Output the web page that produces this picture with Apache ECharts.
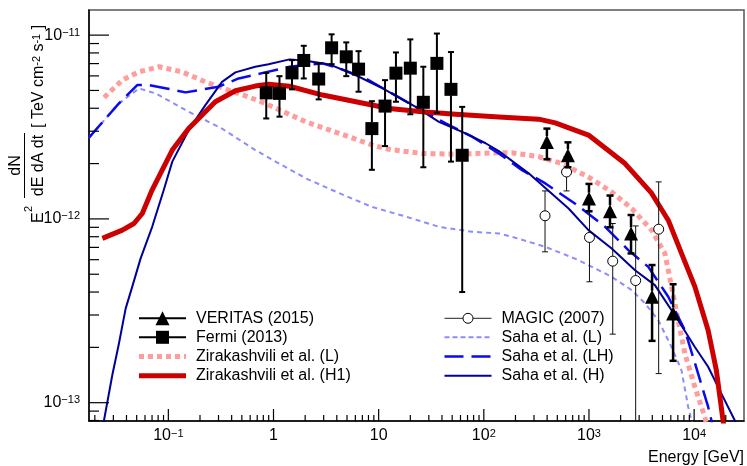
<!DOCTYPE html>
<html>
<head>
<meta charset="utf-8">
<script src="https://cdn.jsdelivr.net/npm/echarts@6/dist/echarts.min.js"></script>
<style>
  html, body { margin: 0; padding: 0; background: #fff; }
  #chart { width: 747px; height: 466px; }
</style>
</head>
<body>
<div id="chart"></div>
<script>
// Axis ranges (GeV on x, TeV cm^-2 s^-1 on y)
const xRange = [0.0176, 29800];
const yRange = [7.95e-14, 1.37e-11];

// Major tick values
const xMajorTicks = [0.1, 1, 10, 100, 1000, 10000];
const yMajorTicks = [1e-13, 1e-12, 1e-11];

// Fermi (2013)
const fermiE  = [0.853, 1.14, 1.50, 1.94, 2.69, 3.57, 4.92, 6.44, 8.62, 11.5, 14.6, 20.0, 26.6, 35.8, 48.7, 62.3];
const fermiF  = [4.85e-12, 4.82e-12, 6.23e-12, 7.28e-12, 5.77e-12, 8.53e-12, 7.62e-12, 6.53e-12, 3.10e-12, 4.11e-12, 6.21e-12, 6.61e-12, 4.31e-12, 7.02e-12, 5.07e-12, 2.22e-12];
const fermiHi = [6.23e-12, 5.98e-12, 7.31e-12, 8.75e-12, 7.02e-12, 1.01e-11, 9.13e-12, 8.18e-12, 4.37e-12, 5.69e-12, 8.05e-12, 9.48e-12, 6.73e-12, 1.02e-11, 8.09e-12, 4.07e-12];
const fermiLo = [3.52e-12, 3.60e-12, 5.07e-12, 5.81e-12, 4.47e-12, 6.95e-12, 5.98e-12, 4.92e-12, 1.85e-12, 2.49e-12, 4.34e-12, 3.71e-12, 1.91e-12, 3.78e-12, 2.05e-12, 4.0e-13];

// VERITAS (2015)
const veritasE  = [398, 631, 1000, 1585, 2512, 3981, 6310];
const veritasF  = [2.62e-12, 2.22e-12, 1.29e-12, 1.10e-12, 8.34e-13, 3.77e-13, 3.06e-13];
const veritasHi = [3.10e-12, 2.61e-12, 1.55e-12, 1.34e-12, 1.05e-12, 5.61e-13, 4.41e-13];
const veritasLo = [2.11e-12, 1.91e-12, 1.10e-12, 9.0e-13, 6.49e-13, 2.17e-13, 1.69e-13];

// MAGIC (2007)
const magicE  = [382, 612, 1011, 1682, 2780, 4600];
const magicF  = [1.04e-12, 1.80e-12, 7.93e-13, 5.89e-13, 4.62e-13, 8.79e-13];
const magicHi = [1.42e-12, 2.18e-12, 1.10e-12, 9.44e-13, 9.16e-13, 1.59e-12];
const magicLo = [6.62e-13, 1.42e-12, 4.55e-13, 2.36e-13, 1.0e-14, 1.44e-13];

// Model curves: [energy, flux]
const zirakashviliL = [[0.0245,4.58e-12],[0.0365,5.69e-12],[0.0525,6.31e-12],[0.0813,6.73e-12],[0.135,6.31e-12],[0.225,5.57e-12],[0.374,5.02e-12],[0.580,4.61e-12],[0.834,4.25e-12],[2.04,3.37e-12],[4.22,2.92e-12],[8.73,2.52e-12],[12.6,2.39e-12],[26.0,2.27e-12],[53.9,2.25e-12],[139,2.29e-12],[185,2.29e-12],[332,2.18e-12],[552,2.00e-12],[989,1.69e-12],[1645,1.40e-12],[2547,1.14e-12],[3938,8.69e-13],[5275,6.49e-13],[6095,4.28e-13],[7047,2.81e-13],[8163,1.85e-13],[10160,1.22e-13],[12630,8.37e-14],[13580,7.1e-14]];
const zirakashviliH1 = [[0.0236,7.84e-13],[0.0365,8.69e-13],[0.0471,9.44e-13],[0.0565,1.07e-12],[0.0702,1.44e-12],[0.109,2.37e-12],[0.156,3.10e-12],[0.280,4.34e-12],[0.434,4.98e-12],[0.671,5.28e-12],[0.897,5.40e-12],[1.42,5.27e-12],[2.93,4.72e-12],[6.08,4.34e-12],[12.6,3.99e-12],[26.0,3.83e-12],[53.9,3.71e-12],[139,3.59e-12],[332,3.49e-12],[478,3.33e-12],[989,2.86e-12],[2203,2.00e-12],[3938,1.38e-12],[5675,9.84e-13],[7586,6.49e-13],[10160,4.28e-13],[13580,2.48e-13],[16270,1.50e-13],[18820,8.03e-14],[19700,6.7e-14]];
const sahaL = [[0.0176,2.77e-12],[0.0339,4.25e-12],[0.0525,5.13e-12],[0.0757,4.82e-12],[0.156,3.83e-12],[0.324,3.10e-12],[0.671,2.37e-12],[0.985,2.09e-12],[2.04,1.66e-12],[4.22,1.38e-12],[8.73,1.16e-12],[18.1,1.03e-12],[37.4,9.06e-13],[77.5,8.51e-13],[139,8.34e-13],[185,8.00e-13],[385,7.05e-13],[795,5.97e-13],[1645,4.84e-13],[2547,4.10e-13],[3412,3.47e-13],[4560,2.81e-13],[6095,2.01e-13],[7586,1.50e-13],[8770,9.51e-14],[9420,8.03e-14],[9790,7.1e-14]];
const sahaLH = [[0.0176,2.77e-12],[0.0339,4.25e-12],[0.0506,5.35e-12],[0.0653,5.35e-12],[0.0962,5.13e-12],[0.146,4.88e-12],[0.195,5.02e-12],[0.301,5.24e-12],[0.466,5.81e-12],[0.834,6.27e-12],[1.42,6.73e-12],[2.93,7.02e-12],[4.22,6.59e-12],[7.56,5.81e-12],[12.6,4.91e-12],[22.5,4.07e-12],[43.4,3.31e-12],[77.5,2.80e-12],[139,2.27e-12],[231,1.84e-12],[385,1.56e-12],[740,1.21e-12],[1425,9.06e-13],[2367,6.76e-13],[3664,5.48e-13],[5675,3.77e-13],[8163,2.48e-13],[10910,1.44e-13],[13580,9.51e-14],[14590,8.03e-14],[15140,7.1e-14]];
const sahaH = [[0.0237,7.28e-14],[0.0293,1.41e-13],[0.0339,2.10e-13],[0.0393,3.26e-13],[0.0454,4.28e-13],[0.0545,6.10e-13],[0.0702,9.06e-13],[0.0906,1.44e-12],[0.109,2.05e-12],[0.156,3.04e-12],[0.225,4.16e-12],[0.324,5.57e-12],[0.434,6.27e-12],[0.671,6.73e-12],[0.897,6.95e-12],[1.42,7.38e-12],[2.04,7.25e-12],[3.40,6.93e-12],[6.08,6.05e-12],[10.9,5.13e-12],[22.5,4.07e-12],[37.4,3.37e-12],[67.1,2.92e-12],[104,2.58e-12],[139,2.34e-12],[267,1.77e-12],[640,1.14e-12],[989,8.69e-13],[1645,6.90e-13],[2742,5.26e-13],[4236,4.36e-13],[7047,2.81e-13],[10160,2.01e-13],[13580,1.57e-13],[18160,1.12e-13],[24320,8.03e-14],[26100,7.28e-14]];

const FONT = '"Liberation Sans", Arial, Helvetica, sans-serif';
const COLORS = {
  zirL: '#ff9c9c', zirH1: '#cc0000', sahaL: '#8c8cff', sahaLH: '#0a0af0', sahaH: '#000099'
};

// Minor ticks 2..9 x 10^k within the axis range
function minorTicks(range) {
  const out = [];
  const k0 = Math.floor(Math.log10(range[0])), k1 = Math.ceil(Math.log10(range[1]));
  for (let k = k0; k <= k1; k++) {
    for (let m = 2; m <= 9; m++) {
      const v = m * Math.pow(10, k);
      if (v > range[0] && v < range[1]) out.push(v);
    }
  }
  return out;
}
const xMinorTicks = minorTicks(xRange);
const yMinorTicks = minorTicks(yRange);

function isPow10(v) { const l = Math.log10(v); return Math.abs(l - Math.round(l)) < 1e-6; }
function pow10Label(v) {
  if (!isPow10(v)) return '';
  const e = Math.round(Math.log10(v));
  if (e === 0) return '{b|1}';
  if (e === 1) return '{b|10}';
  return '{b|10}{s|' + (e < 0 ? '\u2212' : '') + Math.abs(e) + '}';
}
const labelRich = {
  b: { fontSize: 16, fontFamily: FONT, color: '#000' },
  s: { fontSize: 11, fontFamily: FONT, color: '#000', verticalAlign: 'top' }
};

// Tick marks drawn inward from the bottom and left axes
function xTickSeries() {
  const data = xMajorTicks.map(v => [v, yRange[0], 1]).concat(xMinorTicks.map(v => [v, yRange[0], 0]));
  return {
    type: 'custom', coordinateSystem: 'cartesian2d', silent: true, z: 20, clip: false,
    encode: { x: 0, y: 1 }, data,
    renderItem(params, api) {
      const cs = params.coordSys;
      const px = api.coord([api.value(0), yRange[0]])[0];
      const yb = cs.y + cs.height;
      const len = api.value(2) ? 12 : 6;
      return { type: 'line', shape: { x1: px, y1: yb, x2: px, y2: yb - len }, style: { stroke: '#000', lineWidth: 1.2 } };
    }
  };
}
function yTickSeries() {
  const data = yMajorTicks.map(v => [xRange[0], v, 1]).concat(yMinorTicks.map(v => [xRange[0], v, 0]));
  return {
    type: 'custom', coordinateSystem: 'cartesian2d', silent: true, z: 20, clip: false,
    encode: { x: 0, y: 1 }, data,
    renderItem(params, api) {
      const cs = params.coordSys;
      const py = api.coord([xRange[0], api.value(1)])[1];
      const len = api.value(2) ? 20 : 10;
      return { type: 'line', shape: { x1: cs.x, y1: py, x2: cs.x + len, y2: py }, style: { stroke: '#000', lineWidth: 1.2 } };
    }
  };
}

// Vertical error bars with end caps, interrupted by the marker
function errorBars(name, E, F, lo, hi, o) {
  return {
    type: 'custom', name, coordinateSystem: 'cartesian2d', silent: true, z: o.z, clip: false,
    encode: { x: 0, y: 1 },
    data: E.map((e, i) => [e, F[i], lo[i], hi[i]]),
    renderItem(params, api) {
      const cs = params.coordSys;
      const e = api.value(0);
      const c = api.coord([e, api.value(1)]);
      const t = api.coord([e, api.value(3)]);
      const b = api.coord([e, api.value(2)]);
      const bottom = cs.y + cs.height;
      const by = Math.min(b[1], bottom);
      const style = { stroke: o.color, lineWidth: o.width };
      const x = c[0];
      const ch = [];
      if (c[1] - o.gap > t[1]) ch.push({ type: 'line', shape: { x1: x, y1: c[1] - o.gap, x2: x, y2: t[1] }, style });
      if (c[1] + o.gap < by) ch.push({ type: 'line', shape: { x1: x, y1: c[1] + o.gap, x2: x, y2: by }, style });
      ch.push({ type: 'line', shape: { x1: x - o.cap, y1: t[1], x2: x + o.cap, y2: t[1] }, style });
      if (b[1] <= bottom) ch.push({ type: 'line', shape: { x1: x - o.cap, y1: b[1], x2: x + o.cap, y2: b[1] }, style });
      return { type: 'group', children: ch };
    }
  };
}

function curve(name, data, color, width, dash, z) {
  return {
    type: 'line', name, data, z, showSymbol: false, symbol: 'none', smooth: false, clip: true, silent: true,
    lineStyle: { color, width, type: dash || 'solid', cap: 'butt', join: 'round', opacity: 1 }
  };
}

function markers(name, E, F, symbol, size, itemStyle) {
  return {
    type: 'scatter', name, z: 9, silent: true, symbol, symbolSize: size,
    itemStyle: Object.assign({ opacity: 1 }, itemStyle),
    data: E.map((e, i) => [e, F[i]])
  };
}

// Legend built from shapes and text
function legendEntry(x0, y, label, kind) {
  const x1 = x0 + 47, cx = (x0 + x1) / 2;
  const els = [];
  const seg = (a, b, style) => els.push({ type: 'line', shape: { x1: a, y1: y, x2: b, y2: y }, style });
  if (kind === 'veritas') {
    seg(x0, x1, { stroke: '#000', lineWidth: 2 });
    els.push({ type: 'polygon', shape: { points: [[cx, y - 7], [cx + 7, y + 7], [cx - 7, y + 7]] }, style: { fill: '#000' } });
  } else if (kind === 'fermi') {
    seg(x0, x1, { stroke: '#000', lineWidth: 2 });
    els.push({ type: 'rect', shape: { x: cx - 6.5, y: y - 6.5, width: 13, height: 13 }, style: { fill: '#000' } });
  } else if (kind === 'magic') {
    seg(x0, cx - 5, { stroke: '#222', lineWidth: 1 });
    seg(cx + 5, x1, { stroke: '#222', lineWidth: 1 });
    els.push({ type: 'circle', shape: { cx, cy: y, r: 5 }, style: { fill: 'none', stroke: '#000', lineWidth: 1 } });
  } else {
    seg(x0, x1, kind);
  }
  els.push({ type: 'text', style: { text: label, x: x0 + 57, y, fill: '#000', font: '16px ' + FONT, textAlign: 'left', textVerticalAlign: 'middle', verticalAlign: 'middle' } });
  return els;
}
const legendRows = [318.3, 337.3, 356.6, 375.8];
const legendGraphics = [].concat(
  legendEntry(139, legendRows[0], 'VERITAS (2015)', 'veritas'),
  legendEntry(139, legendRows[1], 'Fermi (2013)', 'fermi'),
  legendEntry(139, legendRows[2], 'Zirakashvili et al. (L)', { stroke: COLORS.zirL, lineWidth: 5, lineDash: [5, 4] }),
  legendEntry(139, legendRows[3], 'Zirakashvili et al. (H1)', { stroke: COLORS.zirH1, lineWidth: 5 }),
  legendEntry(444.5, legendRows[0], 'MAGIC (2007)', 'magic'),
  legendEntry(444.5, legendRows[1], 'Saha et al. (L)', { stroke: COLORS.sahaL, lineWidth: 2, lineDash: [5, 3] }),
  legendEntry(444.5, legendRows[2], 'Saha et al. (LH)', { stroke: COLORS.sahaLH, lineWidth: 2.5, lineDash: [19, 8] }),
  legendEntry(444.5, legendRows[3], 'Saha et al. (H)', { stroke: COLORS.sahaH, lineWidth: 2 })
);

// Rotated y-axis title: E^2 dN/(dE dA dt) [ TeV cm^-2 s^-1 ]
const titleFont = '16px ' + FONT;
const yTitle = {
  type: 'group', x: 39, y: 223, rotation: Math.PI / 2, silent: true,
  children: [
    { type: 'text', style: { text: 'E', x: 0, y: 0, font: titleFont, fill: '#000', textAlign: 'left', textVerticalAlign: 'middle', verticalAlign: 'middle' } },
    { type: 'text', style: { text: '2', x: 11, y: -10, font: '11px ' + FONT, fill: '#000', textAlign: 'left', textVerticalAlign: 'middle', verticalAlign: 'middle' } },
    { type: 'text', style: { text: 'dN', x: 57.5, y: -23, font: titleFont, fill: '#000', textAlign: 'center', textVerticalAlign: 'middle', verticalAlign: 'middle' } },
    { type: 'line', shape: { x1: 25, y1: -14.5, x2: 90, y2: -14.5 }, style: { stroke: '#000', lineWidth: 1 } },
    { type: 'text', style: { text: 'dE dA dt', x: 57.5, y: 0, font: titleFont, fill: '#000', textAlign: 'center', textVerticalAlign: 'middle', verticalAlign: 'middle' } },
    { type: 'text', style: {
        text: '[ TeV cm{s|-2} s{s|-1} ]', x: 95, y: 0, font: titleFont, fill: '#000',
        textAlign: 'left', textVerticalAlign: 'middle', verticalAlign: 'middle',
        rich: { s: { fontSize: 11, fontFamily: FONT, fill: '#000', verticalAlign: 'top' } }
      } }
  ]
};

const chart = echarts.init(document.getElementById('chart'), null, { renderer: 'canvas' });
chart.setOption({
  animation: false,
  backgroundColor: '#fff',
  textStyle: { fontFamily: FONT },
  grid: { left: 89, top: 10, right: 1, bottom: 45, show: true, borderColor: '#555', borderWidth: 1.5, backgroundColor: '#fff', containLabel: false },
  xAxis: {
    type: 'log', logBase: 10, min: xRange[0], max: xRange[1],
    axisLine: { show: true, onZero: false, lineStyle: { color: '#000', width: 1.5 } },
    axisTick: { show: false }, minorTick: { show: false }, splitLine: { show: false }, minorSplitLine: { show: false },
    axisLabel: { show: true, interval: 0, margin: 7, color: '#000', fontSize: 16, fontFamily: FONT, hideOverlap: false,
      formatter: pow10Label, rich: labelRich },
    name: 'Energy [GeV]', nameLocation: 'end', nameGap: 0,
    nameTextStyle: { color: '#000', fontSize: 16, fontFamily: FONT, align: 'right', verticalAlign: 'top', padding: [29, 0, 0, 0] }
  },
  yAxis: {
    type: 'log', logBase: 10, min: yRange[0], max: yRange[1],
    axisLine: { show: true, onZero: false, lineStyle: { color: '#000', width: 1.5 } },
    axisTick: { show: false }, minorTick: { show: false }, splitLine: { show: false }, minorSplitLine: { show: false },
    axisLabel: { show: true, interval: 0, margin: 9, color: '#000', fontSize: 16, fontFamily: FONT, hideOverlap: false,
      formatter: pow10Label, rich: labelRich }
  },
  series: [
    curve('Zirakashvili et al. (L)', zirakashviliL, COLORS.zirL, 5, [5, 4], 2),
    curve('Saha et al. (L)', sahaL, COLORS.sahaL, 2, [5, 4], 3),
    curve('Saha et al. (LH)', sahaLH, COLORS.sahaLH, 2.5, [20, 8], 4),
    curve('Saha et al. (H)', sahaH, COLORS.sahaH, 2, 'solid', 5),
    curve('Zirakashvili et al. (H1)', zirakashviliH1, COLORS.zirH1, 5, 'solid', 6),
    errorBars('MAGIC (2007) errors', magicE, magicF, magicLo, magicHi, { color: '#111', width: 1, cap: 3, gap: 5, z: 8 }),
    errorBars('Fermi (2013) errors', fermiE, fermiF, fermiLo, fermiHi, { color: '#000', width: 2, cap: 3, gap: 6, z: 8 }),
    errorBars('VERITAS (2015) errors', veritasE, veritasF, veritasLo, veritasHi, { color: '#000', width: 2.5, cap: 3.5, gap: 6, z: 8 }),
    markers('MAGIC (2007)', magicE, magicF, 'circle', 10, { color: 'rgba(0,0,0,0)', borderColor: '#000', borderWidth: 1 }),
    markers('Fermi (2013)', fermiE, fermiF, 'rect', 13, { color: '#000' }),
    markers('VERITAS (2015)', veritasE, veritasF, 'triangle', 14, { color: '#000' }),
    xTickSeries(),
    yTickSeries()
  ],
  graphic: { elements: legendGraphics.concat([yTitle]) }
});
</script>
</body>
</html>
